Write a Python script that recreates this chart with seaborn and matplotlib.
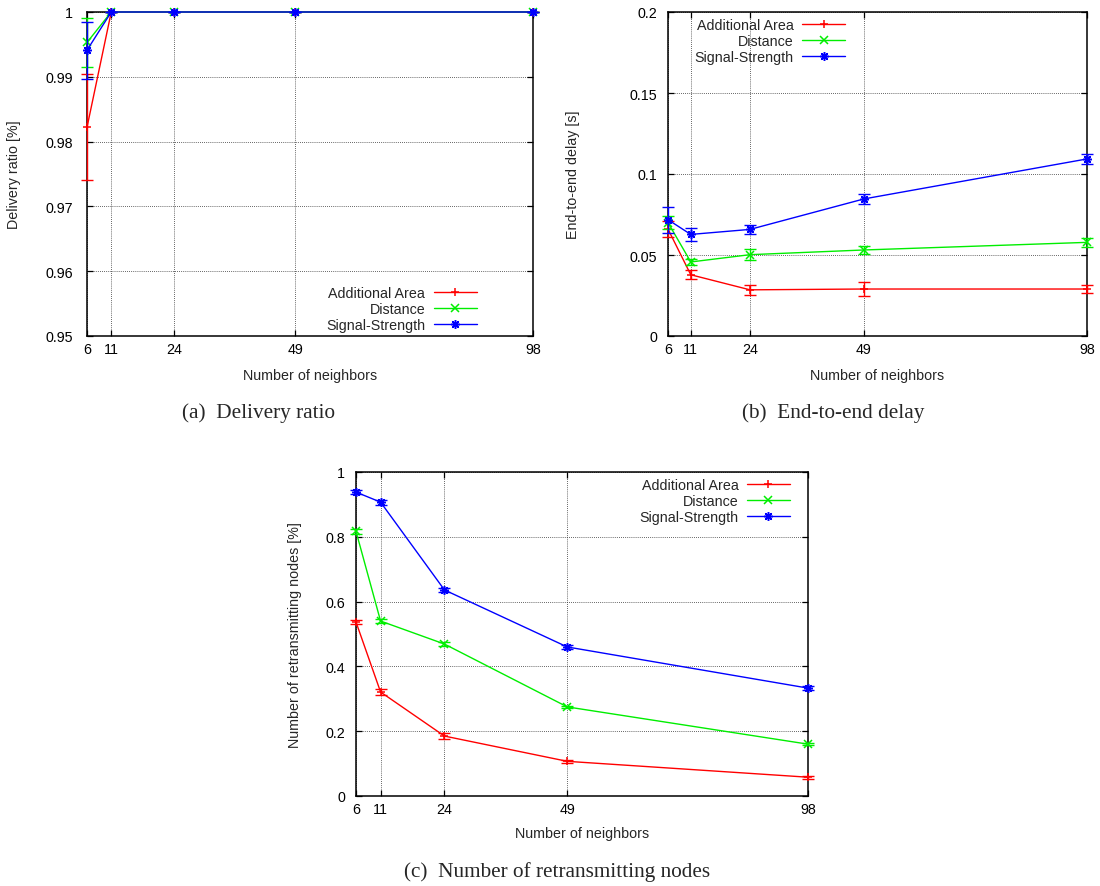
import numpy as np
import pandas as pd
import matplotlib
matplotlib.use("Agg")
import matplotlib.pyplot as plt
from matplotlib.lines import Line2D
import seaborn as sns

# ---------------- data ----------------
neighbors = [6, 11, 24, 49, 98]
methods = ["Additional Area", "Distance", "Signal-Strength"]

# (a) delivery ratio
delivery_area = [0.9822, 1.0, 1.0, 1.0, 1.0]
delivery_area_err = [0.0082, 0.0, 0.0, 0.0, 0.0]
delivery_dist = [0.9953, 1.0, 1.0, 1.0, 1.0]
delivery_dist_err = [0.0038, 0.0, 0.0, 0.0, 0.0]
delivery_sig = [0.9941, 1.0, 1.0, 1.0, 1.0]
delivery_sig_err = [0.0044, 0.0, 0.0, 0.0, 0.0]

# (b) end-to-end delay
delay_area = [0.066, 0.0378, 0.0285, 0.029, 0.029]
delay_area_err = [0.005, 0.0028, 0.003, 0.0045, 0.0025]
delay_dist = [0.070, 0.0457, 0.0502, 0.0531, 0.0578]
delay_dist_err = [0.004, 0.002, 0.0035, 0.0025, 0.003]
delay_sig = [0.0718, 0.0627, 0.0658, 0.0846, 0.1093]
delay_sig_err = [0.008, 0.004, 0.003, 0.003, 0.003]

# (c) retransmitting nodes
retx_area = [0.537, 0.321, 0.185, 0.107, 0.058]
retx_area_err = [0.006, 0.008, 0.010, 0.004, 0.004]
retx_dist = [0.817, 0.540, 0.469, 0.275, 0.160]
retx_dist_err = [0.008, 0.006, 0.006, 0.004, 0.004]
retx_sig = [0.938, 0.907, 0.636, 0.460, 0.333]
retx_sig_err = [0.006, 0.008, 0.006, 0.005, 0.005]

colors = {"Additional Area": "#ff0000", "Distance": "#00ee00", "Signal-Strength": "#0000ff"}
markers = {"Additional Area": "+", "Distance": "x", "Signal-Strength": (8, 2, 0)}

# ---------------- style ----------------
sns.set_style("ticks")
plt.rcParams["font.family"] = ["Liberation Sans", "DejaVu Sans"]
FS = 10.3
MS = 6.3

fig = plt.figure(figsize=(11.0, 8.87), dpi=100)
W, H = 1100.0, 887.0


def make_ax(l, r, t, b):
    return fig.add_axes([l / W, 1 - b / H, (r - l) / W, (b - t) / H])


def draw_panel(ax, vals, errs, ylim, yticks, ytick_labels, ylabel,
               ylabel_x, xlabel_y, leg_loc, leg_anchor, ypad):
    for m, v, e in zip(methods, vals, errs):
        df = pd.DataFrame({"neighbors": neighbors, "value": v})
        sns.lineplot(data=df, x="neighbors", y="value", ax=ax, color=colors[m],
                     marker=markers[m], markersize=MS, markeredgewidth=1.1,
                     markeredgecolor=colors[m], markerfacecolor=colors[m],
                     linewidth=1.0, errorbar=None, legend=False,
                     zorder=3, clip_on=False)
        ax.errorbar(neighbors, v, yerr=e, fmt="none", ecolor=colors[m],
                    elinewidth=1.0, capsize=4, capthick=1.0, zorder=3,
                    clip_on=False)
    ax.set_xlim(6, 98)
    ax.set_ylim(*ylim)
    ax.set_xticks(neighbors)
    ax.set_xticklabels([str(n) for n in neighbors])
    ax.set_yticks(yticks)
    ax.set_yticklabels(ytick_labels)
    ax.grid(True, linestyle=(0, (1, 1.5)), color="#333333", linewidth=0.6)
    ax.set_axisbelow(True)
    for s in ax.spines.values():
        s.set_visible(True)
        s.set_linewidth(1.1)
        s.set_color("black")
    ax.tick_params(direction="in", length=4, width=0.9, top=True, right=True,
                   labelsize=FS, colors="black")
    ax.tick_params(axis="x", pad=4)
    ax.tick_params(axis="y", pad=ypad)
    ax.set_xlabel("Number of neighbors", fontsize=FS)
    ax.set_ylabel(ylabel, fontsize=FS)
    ax.yaxis.set_label_coords(ylabel_x, 0.5)
    ax.xaxis.set_label_coords(0.5, xlabel_y)
    handles = [Line2D([], [], color=colors[m], marker=markers[m], lw=1.0,
                      markersize=MS, markeredgewidth=1.1) for m in methods]
    ax.legend(handles, methods, loc=leg_loc, bbox_to_anchor=leg_anchor,
              frameon=False, markerfirst=False, handlelength=3.0,
              labelspacing=0.14, fontsize=FS, handletextpad=0.6,
              borderpad=0, borderaxespad=0, numpoints=1)


# (a)
ax_a = make_ax(87, 533, 13, 337)
draw_panel(ax_a, [delivery_area, delivery_dist, delivery_sig],
           [delivery_area_err, delivery_dist_err, delivery_sig_err],
           (0.95, 1.0), [0.95, 0.96, 0.97, 0.98, 0.99, 1.0],
           ["0.95", "0.96", "0.97", "0.98", "0.99", "1"],
           "Delivery ratio [%]", -0.148, -0.099,
           "lower right", (0.874, 0.012), 10)

# (b)
ax_b = make_ax(668, 1087, 13, 337)
draw_panel(ax_b, [delay_area, delay_dist, delay_sig],
           [delay_area_err, delay_dist_err, delay_sig_err],
           (0.0, 0.2), [0.0, 0.05, 0.1, 0.15, 0.2],
           ["0", "0.05", "0.1", "0.15", "0.2"],
           "End-to-end delay [s]", -0.21, -0.099,
           "upper right", (0.4224, 0.981), 8)

# (c)
ax_c = make_ax(356, 808, 473, 797)
draw_panel(ax_c, [retx_area, retx_dist, retx_sig],
           [retx_area_err, retx_dist_err, retx_sig_err],
           (0.0, 1.0), [0.0, 0.2, 0.4, 0.6, 0.8, 1.0],
           ["0", "0.2", "0.4", "0.6", "0.8", "1"],
           "Number of retransmitting nodes [%]", -0.119, -0.093,
           "upper right", (0.960, 0.981), 8)

cap_font = dict(family=["Liberation Serif", "DejaVu Serif"], fontsize=15.3)
fig.text(258 / W, 1 - 413 / H, "(a)  Delivery ratio", ha="center", va="center", **cap_font)
fig.text(833 / W, 1 - 413 / H, "(b)  End-to-end delay", ha="center", va="center", **cap_font)
fig.text(557 / W, 1 - 872 / H, "(c)  Number of retransmitting nodes", ha="center", va="center", **cap_font)

fig.savefig("out.png", dpi=100, facecolor="white")
